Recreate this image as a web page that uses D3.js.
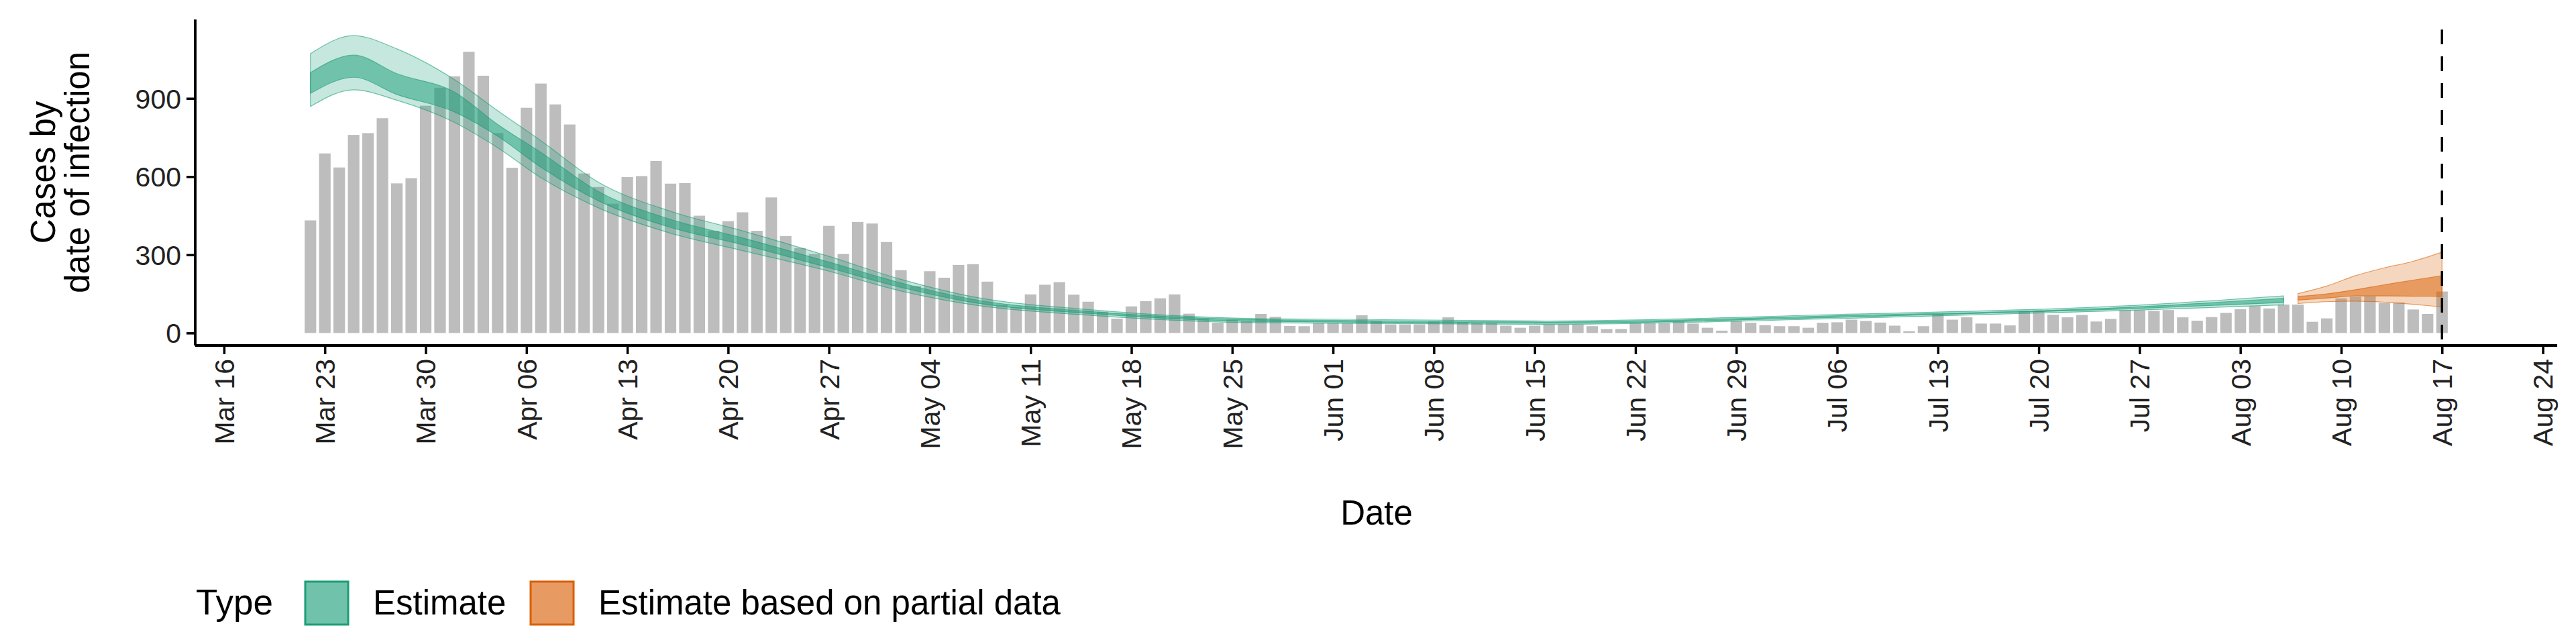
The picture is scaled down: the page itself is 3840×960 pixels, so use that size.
<!DOCTYPE html>
<html><head>
<script src="https://d3js.org/d3.v7.min.js"></script>
<style>
body { margin:0; background:#fff; }
text { font-family: "Liberation Sans", Arial, sans-serif; }
</style>
</head><body>
<svg width=3840 height=960></svg>
<script>
// daily reported cases, 2020-03-22 .. 2020-08-17
var caseStart = '2020-03-22';
var cases = [432,689,635,760,767,824,574,594,872,941,985,1079,987,767,634,864,957,877,800,612,
  560,496,598,602,660,573,575,450,392,429,463,392,520,372,326,303,411,303,426,420,
  349,241,180,237,212,261,264,197,108,100,148,185,195,
  147,120,82,55,102,122,133,148,74,55,39,51,46,73,62,27,26,37,37,37,68,
  46,33,33,33,44,60,42,39,39,28,20,28,33,33,33,26,15,15,37,37,
  37,44,36,20,9,46,39,30,26,26,20,39,41,51,46,40,28,7,26,73,
  51,60,36,36,29,85,86,70,60,69,44,54,87,88,85,88,60,47,61,77,
  91,103,94,109,109,43,56,133,139,141,115,117,90,73,159];

// estimate knots
var estDates  = ['2020-03-22','2020-03-25','2020-03-28','2020-04-01','2020-04-04','2020-04-07','2020-04-11','2020-04-16','2020-04-21','2020-04-27','2020-05-02','2020-05-07','2020-05-15','2020-05-27','2020-06-16','2020-07-06','2020-07-26','2020-08-06'];
var estLo90   = [869,933,893,808,711,596,480,383,316,237,161,108,68,39,33,55,86,108];
var estHi90   = [1072,1141,1090,972,853,738,578,467,392,294,206,139,90,55,46,71,104,142];
var estLo50   = [919,981,915,848,755,636,507,405,339,250,175,117,75,44,37,60,92,117];
var estHi50   = [999,1066,995,924,800,693,543,436,365,272,192,129,83,51,42,66,98,133];

var partDates = ['2020-08-07','2020-08-09','2020-08-11','2020-08-13','2020-08-15','2020-08-17'];
var partLo90  = [113,120,122,118,110,100];
var partHi90  = [151,180,220,250,275,310];
var partLo50  = [126,134,142,142,141,140];
var partHi50  = [140,150,166,185,203,220];

var yTicks = [0,300,600,900];
var xTickDates = ['2020-03-16','2020-03-23','2020-03-30','2020-04-06','2020-04-13','2020-04-20','2020-04-27','2020-05-04','2020-05-11','2020-05-18','2020-05-25','2020-06-01','2020-06-08','2020-06-15','2020-06-22','2020-06-29','2020-07-06','2020-07-13','2020-07-20','2020-07-27','2020-08-03','2020-08-10','2020-08-17','2020-08-24'];
var cutoff = '2020-08-17';

var parse = d3.timeParse('%Y-%m-%d');
var svg = d3.select('svg');
var L = 291, R = 3812, T = 29, B = 515;

var x = d3.scaleTime().domain([parse('2020-03-14'), parse('2020-08-25')]).range([L, R]);
var y = d3.scaleLinear().domain([-48, 1203]).range([B, T]);
var day = x(parse('2020-03-17')) - x(parse('2020-03-16'));

var start = parse(caseStart);
svg.append('g').selectAll('rect').data(cases).enter().append('rect')
  .attr('x', function(d,i){ return x(d3.timeDay.offset(start, i)) - day*0.4; })
  .attr('width', day*0.8)
  .attr('y', function(d){ return y(d); })
  .attr('height', function(d){ return y(0) - y(d); })
  .attr('fill', '#bdbdbd');

function band(dates, lo, hi, col, alpha) {
  var pts = dates.map(function(d,i){ return {t: parse(d), lo: lo[i], hi: hi[i]}; });
  var area = d3.area().curve(d3.curveMonotoneX)
    .x(function(d){ return x(d.t); })
    .y0(function(d){ return y(d.lo); })
    .y1(function(d){ return y(d.hi); });
  svg.append('path').datum(pts).attr('d', area)
    .attr('fill', col).attr('fill-opacity', alpha)
    .attr('stroke', col).attr('stroke-opacity', 0.6).attr('stroke-width', 1.2);
}
band(estDates, estLo90, estHi90, '#1b9e77', 0.25);
band(estDates, estLo50, estHi50, '#1b9e77', 0.5);
band(partDates, partLo90, partHi90, '#d95f02', 0.25);
band(partDates, partLo50, partHi50, '#d95f02', 0.5);

svg.append('line')
  .attr('x1', x(parse(cutoff))).attr('x2', x(parse(cutoff)))
  .attr('y1', 44).attr('y2', B)
  .attr('stroke', 'black').attr('stroke-width', 3.5).attr('stroke-dasharray', '22,18');

// axes
var yAxis = svg.append('g').attr('transform', 'translate(' + L + ',0)')
  .call(d3.axisLeft(y).tickValues(yTicks).tickSize(13).tickPadding(8));
var xAxis = svg.append('g').attr('transform', 'translate(0,' + B + ')')
  .call(d3.axisBottom(x).tickValues(xTickDates.map(parse)).tickSize(13).tickFormat(d3.timeFormat('%b %d')));
[yAxis, xAxis].forEach(function(a){
  a.select('.domain').attr('stroke-width', 4).attr('d', a === yAxis ? 'M0,' + T + 'V' + B : 'M' + L + ',0H' + R);
  a.selectAll('.tick line').attr('stroke-width', 3.5);
  a.selectAll('text').attr('font-size', 41).attr('fill', '#222').style('font-family', '"Liberation Sans", Arial, sans-serif');
});
yAxis.selectAll('text').attr('dy', '0.35em');
xAxis.selectAll('text')
  .attr('transform', 'rotate(-90)')
  .attr('text-anchor', 'end')
  .attr('x', -20).attr('y', 0).attr('dy', '0.35em');

svg.append('text').attr('x', 2052).attr('y', 782).attr('text-anchor', 'middle')
  .attr('font-size', 51).text('Date');
var yt = svg.append('text').attr('transform', 'translate(0,257) rotate(-90)').attr('text-anchor', 'middle').attr('font-size', 51);
yt.append('tspan').attr('x', 0).attr('y', 82).text('Cases by');
yt.append('tspan').attr('x', 0).attr('y', 133).text('date of infection');

// legend
var lg = svg.append('g');
lg.append('text').attr('x', 292).attr('y', 916).attr('font-size', 53).text('Type');
var keys = [{lab:'Estimate', fill:'#70c2aa', stroke:'#1b9e77', x:455},
            {lab:'Estimate based on partial data', fill:'#e89a63', stroke:'#d95f02', x:791}];
keys.forEach(function(k){
  lg.append('rect').attr('x', k.x).attr('y', 867).attr('width', 64).attr('height', 64)
    .attr('fill', k.fill).attr('stroke', k.stroke).attr('stroke-width', 3);
  lg.append('text').attr('x', k.x + 101).attr('y', 916).attr('font-size', 51).text(k.lab);
});
</script>
</body></html>
